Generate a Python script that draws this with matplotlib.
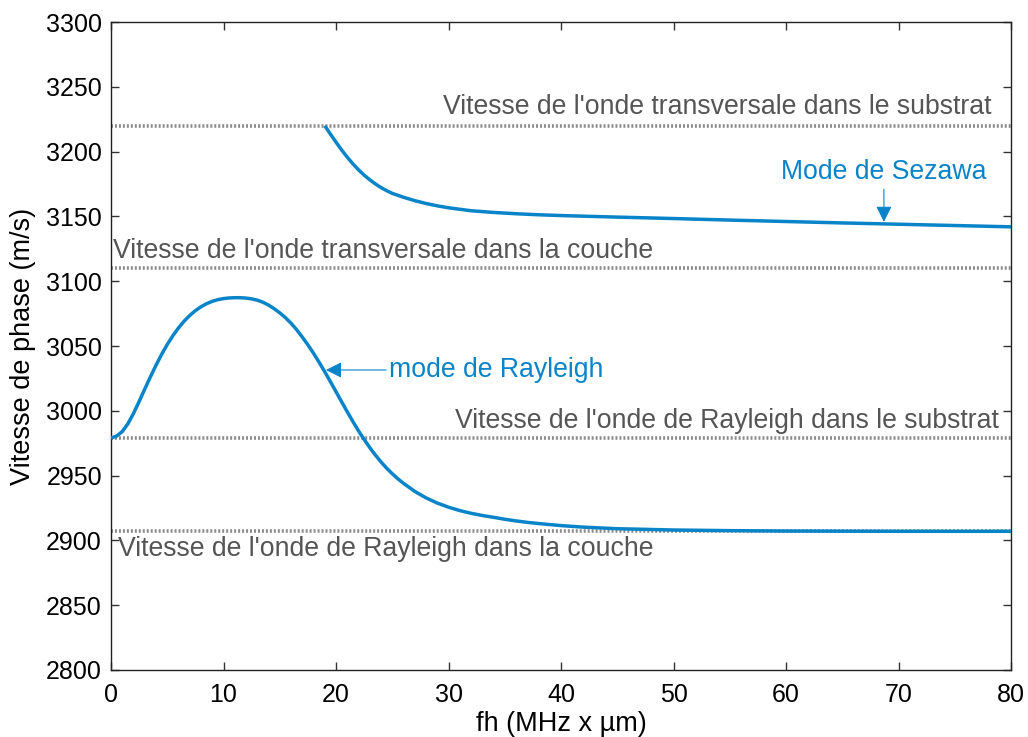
import numpy as np
import matplotlib
matplotlib.use("Agg")
import matplotlib.pyplot as plt

plt.rcParams['font.family'] = ['Liberation Sans', 'DejaVu Sans']

# Data
rayleigh_fh = [0, 0.5, 1, 1.5, 2, 2.5, 3, 3.5, 4, 4.5, 5, 5.5, 6, 6.5, 7, 7.5, 8, 8.5, 9, 9.5,
               10, 10.5, 11, 11.5, 12, 12.5, 13, 13.5, 14, 14.5, 15, 15.5, 16, 16.5, 17, 17.5,
               18, 18.5, 19, 19.5, 20, 20.5, 21, 21.5, 22, 22.5, 23, 23.5, 24, 24.5, 25, 25.5,
               26, 27, 28, 29, 30, 31, 32, 33, 34, 35, 36, 37, 38, 40, 42, 45, 50, 55, 60, 70, 80]
rayleigh_v = [2979, 2980.5, 2984, 2990, 2998, 3007.2, 3016.8, 3026.2, 3035.2, 3043.6, 3051.2,
              3058, 3064, 3069.2, 3073.6, 3077.3, 3080.3, 3082.7, 3084.5, 3085.8, 3086.6, 3087.1,
              3087.3, 3087.3, 3087.0, 3086.4, 3085.4, 3083.8, 3081.6, 3078.8, 3075.6, 3071.9,
              3067.6, 3062.6, 3056.9, 3050.9, 3044.4, 3037.4, 3030.1, 3022.5, 3014.7, 3006.9,
              2999.2, 2991.7, 2984.5, 2977.9, 2971.6, 2965.8, 2960.5, 2955.7, 2951.4, 2947.5,
              2944, 2937.8, 2932.8, 2928.8, 2925.6, 2923, 2920.9, 2919.2, 2917.8, 2916.3, 2915,
              2913.9, 2913, 2911.4, 2910.2, 2909, 2908, 2907.5, 2907.2, 2907, 2907]

sezawa_fh = [19.0, 19.5, 20, 20.5, 21, 21.5, 22, 22.5, 23, 23.5, 24, 24.5, 25, 26, 27, 28, 29,
             30, 32, 34, 36, 38, 40, 45, 50, 55, 60, 65, 70, 75, 80]
sezawa_v = [3220, 3213.6, 3207.3, 3201.3, 3195.7, 3190.6, 3186, 3181.9, 3178.3, 3175.1, 3172.3,
            3169.9, 3167.8, 3164.8, 3162.2, 3160, 3158.2, 3156.7, 3154.4, 3153.1, 3152.1,
            3151.3, 3150.7, 3149.5, 3148.4, 3147.2, 3146.1, 3145, 3144, 3143, 3142]

ref_values = [3220, 3110, 2979, 2907]
ref_labels = ["Vitesse de l'onde transversale dans le substrat",
              "Vitesse de l'onde transversale dans la couche",
              "Vitesse de l'onde de Rayleigh dans le substrat",
              "Vitesse de l'onde de Rayleigh dans la couche"]

x_ticks = [0, 10, 20, 30, 40, 50, 60, 70, 80]
y_ticks = [2800, 2850, 2900, 2950, 3000, 3050, 3100, 3150, 3200, 3250, 3300]

blue = '#0a84c8'
gray = '#555555'

fig = plt.figure(figsize=(10.28, 7.37), dpi=100)
ax = fig.add_axes([0.108, 0.091, 0.8755, 0.879])

for v in ref_values:
    ax.axhline(v, color='#8c8c8c', linestyle=(0, (0.55, 0.55)), linewidth=2.6, zorder=1)

ax.plot(rayleigh_fh, rayleigh_v, color=blue, linewidth=2.5, zorder=3, solid_capstyle='butt',
        solid_joinstyle='round')
ax.plot(sezawa_fh, sezawa_v, color=blue, linewidth=2.5, zorder=3, solid_capstyle='butt',
        solid_joinstyle='round')

fs_lbl = 19.2
ax.text(78.3, 3234.5, ref_labels[0], ha='right', va='center', color=gray, fontsize=fs_lbl)
ax.text(0.15, 3123.5, ref_labels[1], ha='left', va='center', color=gray, fontsize=fs_lbl)
ax.text(78.9, 2992.5, ref_labels[2], ha='right', va='center', color=gray, fontsize=fs_lbl)
ax.text(0.6, 2893.5, ref_labels[3], ha='left', va='center', color=gray, fontsize=fs_lbl)

ax.text(68.7, 3184.5, 'Mode de Sezawa', ha='center', va='center', color=blue, fontsize=fs_lbl)
ax.annotate('', xy=(68.7, 3145.8), xytext=(68.7, 3171),
            arrowprops=dict(arrowstyle='-|>', color=blue, lw=0.8, mutation_scale=24,
                            shrinkA=0, shrinkB=0))

ax.annotate('mode de Rayleigh', xy=(19.1, 3031.5), xytext=(24.7, 3031.5), ha='left', va='center',
            color=blue, fontsize=fs_lbl,
            arrowprops=dict(arrowstyle='-|>', color=blue, lw=0.8, mutation_scale=24,
                            shrinkA=0, shrinkB=0))

ax.set_xlim(0, 80)
ax.set_ylim(2800, 3300)
ax.set_xticks(x_ticks)
ax.set_yticks(y_ticks)
ax.tick_params(direction='in', length=6, width=1, labelsize=18, top=True, right=True,
               color='#333333')
ax.tick_params(axis='x', pad=9.5)
ax.tick_params(axis='y', pad=6.5)
for s in ax.spines.values():
    s.set_color('#222222')
    s.set_linewidth(1)

ax.set_xlabel('fh (MHz x µm)', fontsize=19.5, labelpad=3)
ax.set_ylabel('Vitesse de phase (m/s)', fontsize=19.5, labelpad=7)

fig.savefig('out.png', dpi=100)
